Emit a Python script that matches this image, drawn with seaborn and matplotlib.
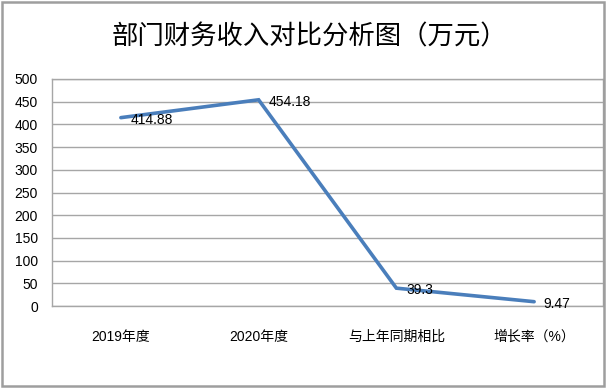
import matplotlib
matplotlib.use("Agg")
import matplotlib.pyplot as plt
from matplotlib import font_manager
from matplotlib.patches import Rectangle
import seaborn as sns
import pandas as pd

categories = ["2019年度", "2020年度", "与上年同期相比", "增长率（%）"]
values = [414.88, 454.18, 39.3, 9.47]
label_texts = ["414.88", "454.18", "39.3", "9.47"]
yticks = [0, 50, 100, 150, 200, 250, 300, 350, 400, 450, 500]
title = "部门财务收入对比分析图（万元）"

sns.set_theme(style="white")
names = {f.name for f in font_manager.fontManager.ttflist}
num_font = "Liberation Sans Narrow" if "Liberation Sans Narrow" in names else "Liberation Sans"
cjk = "Noto Sans CJK SC"
plt.rcParams['font.family'] = [num_font, cjk, 'DejaVu Sans']

df = pd.DataFrame({"pos": range(len(categories)), "value": values})

fig = plt.figure(figsize=(6.06, 3.88), dpi=100)
ax = fig.add_axes([52/606, 1 - 306/388, (603 - 52)/606, (306 - 79)/388])

sns.lineplot(data=df, x="pos", y="value", ax=ax, color="#4A7EBB", linewidth=2.6,
             sort=False, solid_joinstyle="miter")

ax.set_xlim(-0.5, len(categories) - 0.5)
ax.set_ylim(0, 500)
ax.set_yticks(yticks)
ax.set_yticklabels([str(t) for t in yticks], fontsize=10, color="#000000",
                   family=[num_font, cjk])
ax.set_xticks(range(len(categories)))
ax.set_xticklabels(categories, fontsize=10, color="#000000", family=[num_font, cjk])
ax.tick_params(axis="x", length=0, pad=17)
ax.tick_params(axis="y", length=0, pad=10)
ax.set_xlabel("")
ax.set_ylabel("")
ax.grid(axis="y", color="#A6A6A6", linewidth=1.0)
ax.set_axisbelow(True)
for s in ax.spines.values():
    s.set_visible(True)
    s.set_color("#A6A6A6")
    s.set_linewidth(1.0)

for i, (v, t) in enumerate(zip(values, label_texts)):
    ax.annotate(t, (i, v), xytext=(7, -1.5), textcoords="offset points",
                ha="left", va="center", fontsize=10, color="#000000",
                family=[num_font, cjk])

fig.text(309/606, 1 - 37/388, title, ha="center", va="center", fontsize=19,
         family=[cjk, 'DejaVu Sans'], color="#000000")

fig.patches.append(Rectangle((0.003, 0.004), 0.994, 0.992, transform=fig.transFigure,
                             fill=False, edgecolor="#9E9E9E", linewidth=1.8))

fig.savefig("out.png", dpi=100)
